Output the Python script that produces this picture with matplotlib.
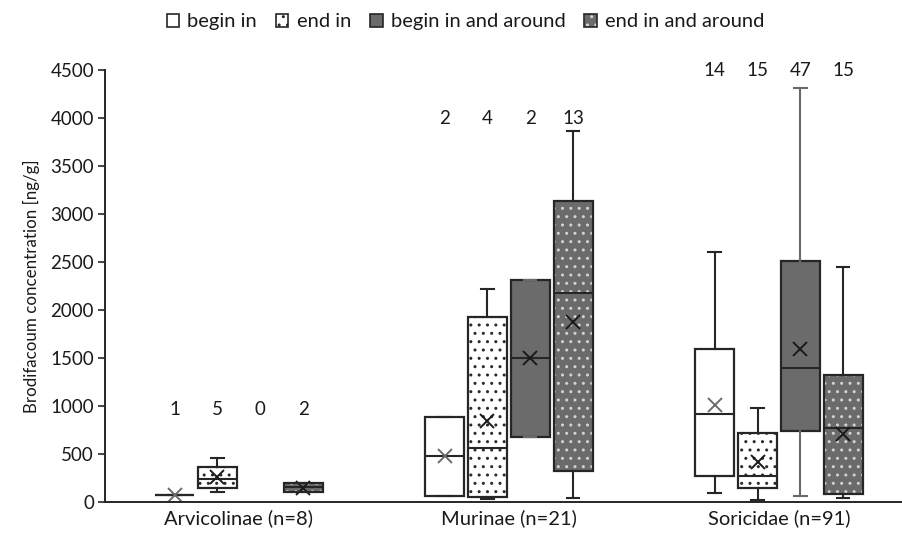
import matplotlib.pyplot as plt
from matplotlib.patches import Patch, PathPatch

plt.rcParams['font.family'] = ['Lato', 'DejaVu Sans']

groups = ["Arvicolinae (n=8)", "Murinae (n=21)", "Soricidae (n=91)"]
series = ["begin in", "end in", "begin in and around", "end in and around"]

# (whisker low, q1, median, q3, whisker high, mean) for each series, None = no animals
arvicolinae = [(70, 70, 70, 70, 70, 70),
               (108, 143, 240, 368, 460, 261),
               None,
               (101, 101, 153, 195, 195, 150)]
murinae = [(59, 59, 483, 884, 884, 483),
           (30, 49, 560, 1928, 2216, 838),
           (675, 675, 1500, 2310, 2310, 1500),
           (42, 327, 2171, 3135, 3859, 1876)]
soricidae = [(94, 275, 915, 1590, 2606, 1012),
             (21, 143, 275, 720, 981, 414),
             (66, 734, 1399, 2509, 4311, 1590),
             (42, 84, 769, 1318, 2443, 710)]
box_data = [arvicolinae, murinae, soricidae]

counts = [[1, 5, 0, 2],
          [2, 4, 2, 13],
          [14, 15, 47, 15]]
count_y = [965, 3995, 4490]

# styles per series
face = ['white', 'white', '#6b6b6b', '#6b6b6b']
hatch = [None, '..', None, '..']
dot_col = [None, '#2a2a2a', None, '#d2d2d2']
whisk_col = ['#262626', '#262626', '#6a6a6a', '#262626']
mean_col = ['#6a6a6a', '#1a1a1a', '#1a1a1a', '#1a1a1a']
edge = '#262626'
txt = '#1a1a1a'

step = 0.159
width = 0.145

fig, ax = plt.subplots(figsize=(9.03, 5.43), dpi=100)
fig.subplots_adjust(left=0.1163, right=0.999, bottom=0.0755, top=0.872)

for s in range(len(series)):
    stats = []
    pos = []
    for g, grp in enumerate(box_data):
        v = grp[s]
        if v is None:
            continue
        lo, q1, med, q3, hi, mean = v
        stats.append(dict(whislo=lo, q1=q1, med=med, q3=q3, whishi=hi,
                          mean=mean, fliers=[]))
        pos.append(g + (s - 1.5) * step)
    art = ax.bxp(stats, positions=pos, widths=width, capwidths=0.045,
                 patch_artist=True, showmeans=True, manage_ticks=False,
                 boxprops=dict(facecolor=face[s], edgecolor=edge, linewidth=1.6),
                 whiskerprops=dict(color=whisk_col[s], linewidth=1.5),
                 capprops=dict(color=whisk_col[s], linewidth=1.5),
                 medianprops=dict(color=edge, linewidth=1.5),
                 meanprops=dict(marker='x', markersize=10, markeredgewidth=1.4,
                                markeredgecolor=mean_col[s]))
    if hatch[s]:
        for box in art['boxes']:
            box.set_hatch(hatch[s])
            box.set_edgecolor(dot_col[s])
            box.set_linewidth(0)
            outline = PathPatch(box.get_path(), fill=False, edgecolor=edge,
                                linewidth=1.6, zorder=box.get_zorder() + 0.1)
            ax.add_patch(outline)

for g in range(len(groups)):
    for s in range(len(series)):
        ax.text(g + (s - 1.5) * step, count_y[g], str(counts[g][s]),
                ha='center', va='center', fontsize=13.5, color=txt)

ax.set_xlim(-0.496, 2.456)
ax.set_ylim(0, 4500)
ax.set_yticks(range(0, 4501, 500))
ax.set_xticks(range(len(groups)))
ax.set_xticklabels(groups)
ax.tick_params(axis='x', length=0, pad=5, labelsize=14.5, labelcolor=txt)
ax.tick_params(axis='y', direction='out', length=5, width=1.2, pad=3,
               labelsize=13.5, labelcolor=txt, color='#262626')
ax.set_ylabel("Brodifacoum concentration [ng/g]", fontsize=12.2, color=txt, labelpad=7)
for side in ['top', 'right']:
    ax.spines[side].set_visible(False)
for side in ['left', 'bottom']:
    ax.spines[side].set_color('#262626')
    ax.spines[side].set_linewidth(1.4)

handles = []
for s in range(len(series)):
    if hatch[s]:
        h = (Patch(facecolor=face[s], edgecolor=dot_col[s], hatch=hatch[s], linewidth=0),
             Patch(facecolor='none', edgecolor=edge, linewidth=1.2))
    else:
        h = Patch(facecolor=face[s], edgecolor=edge, linewidth=1.2)
    handles.append(h)
fig.legend(handles, series, loc='center', ncol=4, bbox_to_anchor=(0.5155, 0.9595),
           frameon=False, fontsize=14.5, handlelength=0.62, handleheight=0.62,
           handletextpad=0.4, columnspacing=0.95, labelcolor=txt)

fig.savefig('out.png', dpi=100)
